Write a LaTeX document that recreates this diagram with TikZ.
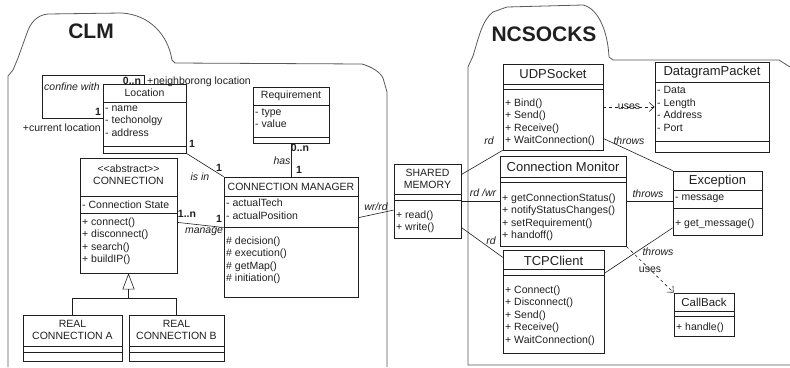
\documentclass[tikz,border=0pt]{standalone}
\usepackage{fontspec}
\setmainfont{Liberation Sans}
\usetikzlibrary{positioning,fit,arrows.meta}
\definecolor{ink}{gray}{0.12}
\definecolor{frame}{gray}{0.35}

\tikzset{
  classbox/.style={draw=ink, line width=0.7pt, inner sep=0pt},
  classtitle/.style={font=\fontsize{10.5}{12.5}\selectfont, align=center, inner sep=0pt, text=ink},
  bigtitle/.style={font=\fontsize{13}{15}\selectfont, inner sep=0pt, text=ink},
  member/.style={font=\fontsize{10.5}{12.5}\selectfont, align=left, anchor=north west, inner sep=0pt, text=ink},
  tag/.style={font=\fontsize{10.5}{12.5}\selectfont, inner sep=0pt, text=ink},
  role/.style={font=\fontsize{10.5}{12.5}\selectfont\itshape, inner sep=0pt, text=ink},
  mult/.style={font=\fontsize{10.5}{12.5}\selectfont\bfseries, inner sep=0pt, text=ink},
  pkg/.style={draw=frame, line width=0.8pt},
  pkgname/.style={font=\fontsize{21}{24}\selectfont\bfseries, text=ink},
  link/.style={draw=ink, line width=0.6pt},
  depend/.style={link, dashed, -{Straight Barb[length=5pt,width=9pt]}},
}

\begin{document}
\begin{tikzpicture}[x=1pt, y=-1pt]
  \useasboundingbox (0,0) rectangle (790,367);

  % CLM package
  \draw[pkg] (8,367) -- (8,76) -- (13,70) -- (18,58) -- (27,33)
        .. controls (30,24) and (36,15) .. (48,14) -- (122,13)
        .. controls (150,15) and (168,35) .. (172,60) -- (175,63) -- (362,64)
        .. controls (372,67) and (380,72) .. (383,78) -- (387,92) -- (387,367);
  \node[pkgname] (clm) at (91,31) {CLM};

  % Location
  \node[classbox, fit={(103,84) (186,153)}] (loc) {};
  \node[classtitle] (loc-t) at (144.5,93) {Location};
  \draw[link] (103,102) -- (186,102) (103,146) -- (186,146);
  \node[member] (loc-a) at (105,105.5) {- name\\- techonolgy\\- address};

  % self association
  \draw[link] (loc.west) -| (42,75) -| (loc.north);
  \node[mult] (m-nb) at (132,81) {0..n};
  \node[tag, anchor=west] (r-nb) at (147,82) {+neighborong location};
  \node[role, anchor=west] (r-cf) at (44,87) {confine with};
  \node[mult] (m-cur) at (98,112) {1};
  \node[tag, anchor=east] (r-cur) at (101,128) {+current location};

  % Requirement
  \node[classbox, fit={(253,87) (329,143)}] (req) {};
  \node[classtitle] (req-t) at (291,96) {Requirement};
  \draw[link] (253,105) -- (329,105) (253,137) -- (329,137);
  \node[member] (req-a) at (255,108.5) {- type\\- value};

  % CONNECTION
  \node[classbox, fit={(80,158) (177,273)}] (conn) {};
  \node[classtitle] (conn-t) at (128.5,174.5) {<\kern0pt<abstract>\kern0pt>\\CONNECTION};
  \draw[link] (80,196) -- (177,196) (80,213) -- (177,213);
  \node[member] (conn-a) at (82,200.5) {- Connection State};
  \node[member] (conn-o) at (82,217.5) {+ connect()\\+ disconnect()\\+ search()\\+ buildIP()};

  % REAL CONNECTION A / B
  \node[classbox, fit={(23,315) (122,361)}] (reala) {};
  \node[classtitle] (reala-t) at (72.5,330) {REAL\\CONNECTION A};
  \draw[link] (23,346) -- (122,346) (23,352) -- (122,352);
  \node[classbox, fit={(129,315) (224,361)}] (realb) {};
  \node[classtitle] (realb-t) at (176.5,330) {REAL\\CONNECTION B};
  \draw[link] (129,346) -- (224,346) (129,352) -- (224,352);

  % generalization
  \coordinate (gen) at ([yshift=-25pt]conn.south);
  \draw[link, -{Triangle[open, length=16pt, width=12pt]}] (reala.north) |- (gen) -- (conn.south);
  \draw[link] (gen) -| (realb.north);

  % CONNECTION MANAGER
  \node[classbox, fit={(224,177) (358,297)}] (mgr) {};
  \node[classtitle] (mgr-t) at (291,187) {CONNECTION MANAGER};
  \draw[link] (224,196) -- (358,196) (224,227) -- (358,227);
  \node[member] (mgr-a) at (226,199) {- actualTech\\- actualPosition};
  \node[member] (mgr-o) at (226,236.5) {\# decision()\\\# execution()\\\# getMap()\\\# initiation()};

  % associations in CLM
  \draw[link] (req.south) -- (mgr.north);
  \node[mult] (m-req) at (300,148) {0..n};
  \node[role] (r-has) at (282,161) {has};
  \node[mult] (m-has) at (299,170) {1};

  \draw[link] (loc.south east) -- (mgr.north west);
  \node[mult] (m-loc) at (192,144) {1};
  \node[role] (r-isin) at (200,177) {is in};
  \node[mult] (m-isin) at (219,168) {1};

  \draw[link] (conn.-8) -- (mgr.172);
  \node[mult] (m-conn) at (187,214) {1..n};
  \node[role] (r-man) at (204,232) {manage};
  \node[mult] (m-man) at (219,219) {1};

  % SHARED MEMORY
  \node[classbox, fit={(394,164) (461,238)}] (shm) {};
  \node[classtitle] (shm-t) at (427.5,179) {SHARED\\MEMORY};
  \draw[link] (394,194) -- (461,194) (394,200) -- (461,200);
  \node[member] (shm-o) at (396,210.5) {+ read()\\+ write()};

  \draw[link] (mgr.16) -- (shm.195);
  \node[role] (r-wrrd) at (376,207) {wr/rd};

  % NCSOCKS package
  \draw[pkg] (790,365) -- (468,365) -- (468,67) -- (473,56)
        .. controls (478,40) and (482,20) .. (493,12) -- (507,7) -- (583,5)
        .. controls (600,9) and (608,35) .. (609,57) -- (613,60) -- (779,60) -- (790,67);
  \node[pkgname] (nc) at (544,34) {NCSOCKS};

  % UDPSocket
  \node[classbox, fit={(503,64) (603,150)}] (udp) {};
  \node[bigtitle] (udp-t) at (553,74) {UDPSocket};
  \draw[link] (503,84) -- (603,84) (503,89) -- (603,89);
  \node[member] (udp-o) at (505,98.5) {+ Bind()\\+ Send()\\+ Receive()\\+ WaitConnection()};

  % DatagramPacket
  \node[classbox, fit={(655,62) (769,152)}] (dgp) {};
  \node[bigtitle] (dgp-t) at (712,72) {DatagramPacket};
  \draw[link] (655,82) -- (769,82) (655,141) -- (769,141);
  \node[member] (dgp-a) at (657,86.5) {- Data\\- Length\\- Address\\- Port};

  % Connection Monitor
  \node[classbox, fit={(500,156) (626,246)}] (mon) {};
  \node[bigtitle] (mon-t) at (563,167) {Connection Monitor};
  \draw[link] (500,177) -- (626,177) (500,182) -- (626,182);
  \node[member] (mon-o) at (502,193.5) {+ getConnectionStatus()\\+ notifyStatusChanges()\\+ setRequirement()\\+ handoff()};

  % TCPClient
  \node[classbox, fit={(503,250) (604,353)}] (tcp) {};
  \node[bigtitle] (tcp-t) at (553.5,261) {TCPClient};
  \draw[link] (503,269) -- (604,269) (503,275) -- (604,275);
  \node[member] (tcp-o) at (505,285.5) {+ Connect()\\+ Disconnect()\\+ Send()\\+ Receive()\\+ WaitConnection()};

  % Exception
  \node[classbox, fit={(673,171) (762,235)}] (exc) {};
  \node[bigtitle] (exc-t) at (717.5,181) {Exception};
  \draw[link] (673,190) -- (762,190) (673,208) -- (762,208);
  \node[member] (exc-a) at (675,194.5) {- message};
  \node[member] (exc-o) at (675,218.5) {+ get\_message()};

  % CallBack
  \node[classbox, fit={(674,293) (734,336)}] (cb) {};
  \node[classtitle, font=\fontsize{11.5}{13}\selectfont] (cb-t) at (704,302) {CallBack};
  \draw[link] (674,311) -- (734,311) (674,316) -- (734,316);
  \node[member] (cb-o) at (676,322.5) {+ handle()};

  % links to NCSOCKS
  \draw[link] (shm.38) -- (udp.south west);
  \node[role] (r-rd1) at (489,141) {rd};
  \draw[link] (shm.east) -- (mon.west);
  \node[role] (r-rdwr) at (483,193) {rd /wr};
  \draw[link] (shm.-38) -- (tcp.139);
  \node[role] (r-rd2) at (491,241) {rd};

  \draw[depend] (udp.east) -- node[tag] (u-dgp) {uses} (dgp.west);
  \draw[link] (udp.-32) -- (exc.north west);
  \node[role] (t-udp) at (629,141) {throws};
  \draw[link] (mon.east) -- (mon.east -| exc.west);
  \node[role] (t-mon) at (648,194) {throws};
  \draw[link] (tcp.29) -- (exc.209);
  \node[role] (t-tcp) at (658,252) {throws};
  \draw[depend] (mon.south east) -- node[tag] (u-cb) {uses} (cb.north west);
\end{tikzpicture}
\end{document}
